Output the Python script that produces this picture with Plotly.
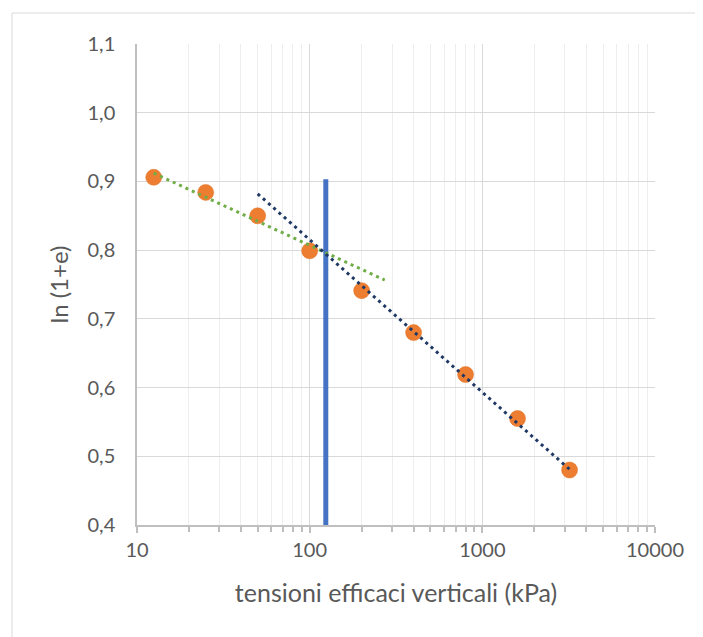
import plotly.graph_objects as go

# data
tension_kpa = [12.5, 25, 50, 100, 200, 400, 800, 1600, 3200]
ln_1e = [0.906, 0.884, 0.850, 0.799, 0.741, 0.680, 0.619, 0.555, 0.480]

green_trend_x = [12.5, 272]
green_trend_y = [0.912, 0.7565]

navy_trend_x = [50, 3200]
navy_trend_y = [0.882, 0.481]

sigma_p_x = [124, 124]
sigma_p_y = [0.4, 0.903]

x_tickvals = [10, 100, 1000, 10000]
x_ticktext = ["10", "100", "1000", "10000"]

# page body has an 8px margin; figure sized to fit the window
W, H = 695, 629
L, R, T, B = 129, 48, 36, 112

fig = go.Figure()

fig.add_trace(go.Scatter(x=sigma_p_x, y=sigma_p_y, mode="lines",
                         line=dict(color="#4472c4", width=5),
                         showlegend=False))
fig.add_trace(go.Scatter(x=tension_kpa, y=ln_1e, mode="markers",
                         marker=dict(color="#ed7d31", size=16,
                                     line=dict(color="#e07020", width=0.5)),
                         showlegend=False))
fig.add_trace(go.Scatter(x=green_trend_x, y=green_trend_y, mode="lines",
                         line=dict(color="#70ad47", width=3, dash="3px,4px"),
                         showlegend=False, hoverinfo="skip"))
fig.add_trace(go.Scatter(x=navy_trend_x, y=navy_trend_y, mode="lines",
                         line=dict(color="#203864", width=3, dash="3px,4px"),
                         showlegend=False, hoverinfo="skip"))

pw = W - L - R
ph = H - T - B
# outer chart border (light grey), extends past right/bottom of the window
fig.add_shape(type="rect", xref="paper", yref="paper",
              x0=(4 - L) / pw, x1=(W + 10 - L) / pw,
              y0=(H - B - (H + 10)) / ph, y1=(H - B - 5) / ph,
              line=dict(color="#d9d9d9", width=1), layer="below")

FONT = "Lato, Liberation Sans, sans-serif"
fig.update_layout(
    width=W, height=H,
    margin=dict(l=L, r=R, t=T, b=B),
    paper_bgcolor="white", plot_bgcolor="white",
    separators=",.",
    font=dict(family=FONT, color="#595959", size=20),
    xaxis=dict(
        type="log", range=[1, 4],
        tickvals=x_tickvals, ticktext=x_ticktext,
        showgrid=True, gridcolor="#d9d9d9", gridwidth=1,
        showline=True, linecolor="#bfbfbf", linewidth=1.5,
        ticks="outside", ticklen=6, tickcolor="#bfbfbf", tickwidth=1.5,
        minor=dict(dtick="D1", showgrid=True, gridcolor="#eeeeee", gridwidth=1,
                   ticks="outside", ticklen=5, tickcolor="#bfbfbf", tickwidth=1.5),
        tickfont=dict(family=FONT, size=20, color="#595959"),
        title=dict(text="tensioni efficaci verticali (kPa)",
                   font=dict(family=FONT, size=25, color="#595959"), standoff=25),
        zeroline=False,
    ),
    yaxis=dict(
        range=[0.4, 1.1], dtick=0.1, tick0=0.4, tickformat=".1f",
        showgrid=True, gridcolor="#d9d9d9", gridwidth=1,
        showline=True, linecolor="#bfbfbf", linewidth=1.5,
        ticks="", ticklabelstandoff=16,
        tickfont=dict(family=FONT, size=20, color="#595959"),
        title=dict(text="ln (1+e)", font=dict(family=FONT, size=24, color="#595959"),
                   standoff=12),
        zeroline=False,
    ),
)

fig.write_html("out.html")
